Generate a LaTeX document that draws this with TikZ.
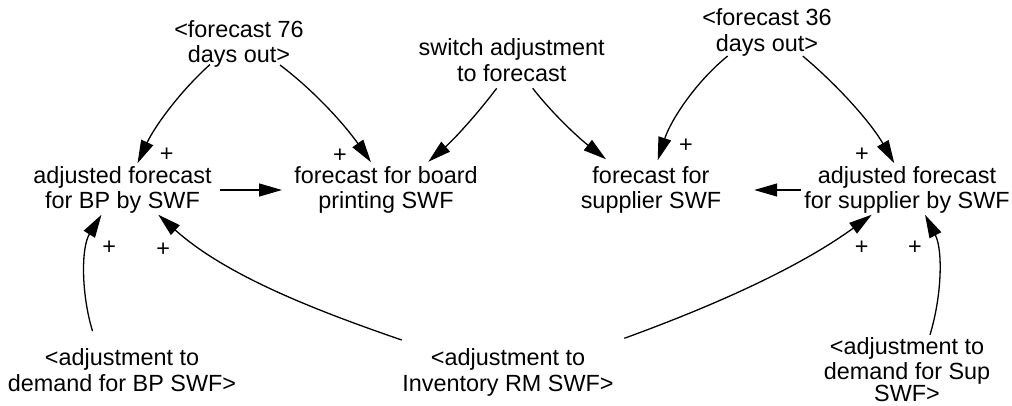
\documentclass[tikz,border=0pt]{standalone}
\usepackage{fontspec}
\setmainfont{Liberation Sans}
\usetikzlibrary{arrows.meta}
\newcommand\lnstrut{\rule[-5pt]{0pt}{22pt}}
\begin{document}
\begin{tikzpicture}[x=1pt,y=-1pt,
  var/.style={align=center, inner sep=0pt, outer sep=0pt, font=\fontsize{23.4}{25.5}\selectfont},
  pol/.style={inner sep=0pt, outer sep=0pt, font=\fontsize{23.4}{25.5}\selectfont},
  arr/.style={-{Triangle[length=23pt,width=13pt]}, line width=1.3pt, looseness=0.85}]
\useasboundingbox (0,0) rectangle (1012,405);

% variables
\node[var] (f76)    at (239,43.75)   {\lnstrut<forecast 76\\\lnstrut days out>};
\node[var] (switch) at (511.7,62.5)  {\lnstrut switch adjustment\\\lnstrut to forecast};
\node[var] (f36)    at (767,32.25)   {\lnstrut<forecast 36\\\lnstrut days out>};
\node[var] (adjbp)  at (122.5,190)   {\lnstrut adjusted forecast\\\lnstrut for BP by SWF};
\node[var] (fboard) at (386,190)     {\lnstrut forecast for board\\\lnstrut printing SWF};
\node[var] (fsup)   at (651,190)     {\lnstrut forecast for\\\lnstrut supplier SWF};
\node[var] (adjsup) at (907,190)     {\lnstrut adjusted forecast\\\lnstrut for supplier by SWF};
\node[var] (dembp)  at (122,372.25)  {\lnstrut<adjustment to\\\lnstrut demand for BP SWF>};
\node[var] (invrm)  at (508,372.25)  {\lnstrut<adjustment to\\\lnstrut Inventory RM SWF>};
\node[var] (demsup) at (907,372)     {\lnstrut<adjustment to\\\lnstrut demand for Sup\\[-3.5pt]\lnstrut SWF>};

% connectors
\draw[arr] ([xshift=-29pt,yshift=3pt]f76.south) to[out=222,in=65] ([xshift=15pt,yshift=3pt]adjbp.north);
\draw[arr] ([xshift=41pt,yshift=2.5pt]f76.south) to[out=323,in=125] ([xshift=-15pt,yshift=4pt]fboard.north);
\draw[arr] ([xshift=-15pt,yshift=-2pt]switch.south) to[out=233,in=41] ([xshift=42.3pt,yshift=4.5pt]fboard.north);
\draw[arr] ([xshift=21pt,yshift=-2pt]switch.south) to[out=308,in=142] ([xshift=-45pt,yshift=7pt]fsup.north);
\draw[arr] ([xshift=-39.3pt]f36.south) to[out=219,in=72] ([xshift=6.7pt,yshift=6pt]fsup.north);
\draw[arr] ([xshift=35.7pt]f36.south) to[out=320,in=120] ([xshift=-12.7pt,yshift=3pt]adjsup.north);
\draw[arr] ([xshift=8.4pt]adjbp.east) -- ([xshift=-12.3pt]fboard.west);
\draw[arr] ([xshift=-3.3pt]adjsup.west) -- ([xshift=33pt]fsup.east);
\draw[arr] ([xshift=-29.5pt,yshift=17.5pt]dembp.north) to[out=107,in=238] ([xshift=-21pt,yshift=-1pt]adjbp.south);
\draw[arr] ([xshift=-106.3pt,yshift=8.5pt]invrm.north) to[out=161,in=318] ([xshift=35.8pt,yshift=-1pt]adjbp.south);
\draw[arr] ([xshift=116.3pt,yshift=10.2pt]invrm.north) to[out=20,in=216] ([xshift=-35.3pt,yshift=-1pt]adjsup.south);
\draw[arr] ([xshift=23pt,yshift=2.5pt]demsup.north) to[out=73,in=297] ([xshift=18pt,yshift=-1pt]adjsup.south);

% polarities
\node[pol] (p1)  at (166.7,154.5) {+};
\node[pol] (p2)  at (340,155.5)   {+};
\node[pol] (p5)  at (686,146.2)   {+};
\node[pol] (p6)  at (862,155)     {+};
\node[pol] (p9)  at (109.3,247.9) {+};
\node[pol] (p10) at (163.3,249.5) {+};
\node[pol] (p11) at (861.7,247.9) {+};
\node[pol] (p12) at (915,247.9)   {+};
\end{tikzpicture}
\end{document}
